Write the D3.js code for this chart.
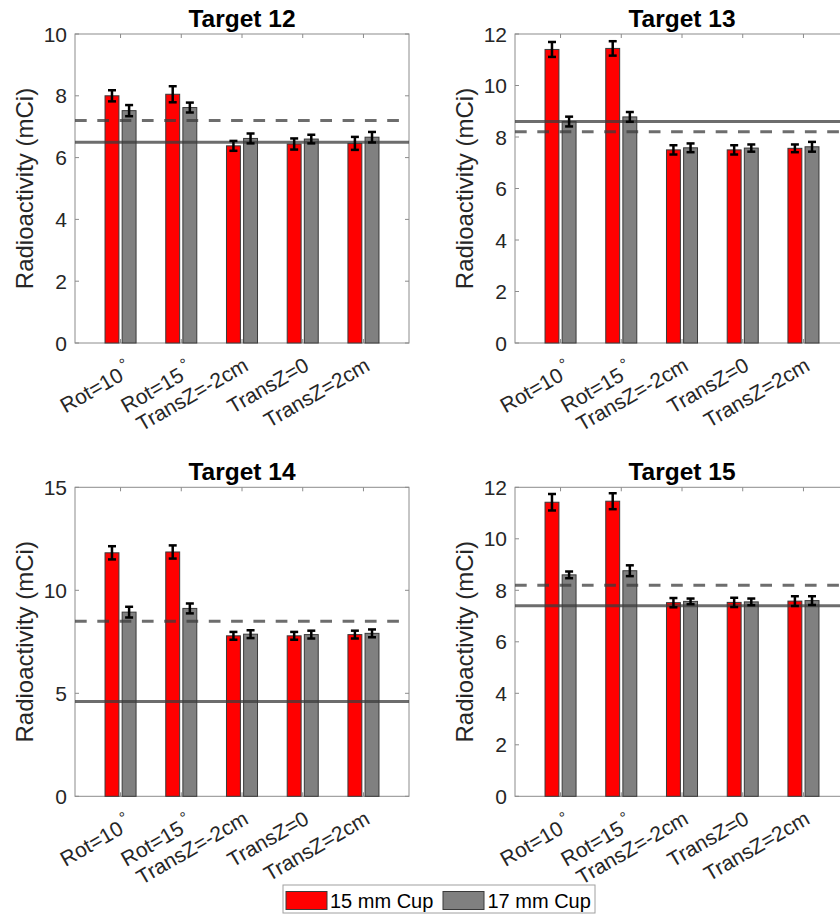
<!DOCTYPE html>
<html>
<head>
<meta charset="utf-8">
<script src="https://cdn.jsdelivr.net/npm/d3@7"></script>
<style>
  html, body { margin: 0; padding: 0; background: #fff; }
  svg { display: block; font-family: "Liberation Sans", Arial, Helvetica, sans-serif; }
</style>
</head>
<body>
<svg id="chart" width="840" height="918"></svg>
<script>
// Categories along the x axis (a trailing "°" is drawn as a superscript ring)
const categories = ["Rot=10°", "Rot=15°", "TransZ=-2cm", "TransZ=0", "TransZ=2cm"];
const targets = ["Target 12", "Target 13", "Target 14", "Target 15"];
const seriesNames = ["15 mm Cup", "17 mm Cup"];

// Y-axis extents and tick labels per target
const yMax = [10, 12, 15, 12];
const yTicks = [
  [0, 2, 4, 6, 8, 10],
  [0, 2, 4, 6, 8, 10, 12],
  [0, 5, 10, 15],
  [0, 2, 4, 6, 8, 10, 12]
];

// Measured activity (mCi) per target, one entry per category
const cup15 = [
  [8.00, 8.05, 6.38, 6.44, 6.46],
  [11.40, 11.44, 7.50, 7.50, 7.56],
  [11.82, 11.86, 7.79, 7.79, 7.85],
  [11.42, 11.46, 7.52, 7.53, 7.58]
];
const cup15Err = [
  [0.18, 0.26, 0.16, 0.18, 0.21],
  [0.29, 0.28, 0.18, 0.18, 0.15],
  [0.32, 0.32, 0.19, 0.19, 0.19],
  [0.32, 0.31, 0.18, 0.18, 0.19]
];
const cup17 = [
  [7.52, 7.62, 6.62, 6.60, 6.66],
  [8.60, 8.78, 7.58, 7.57, 7.62],
  [8.94, 9.12, 7.87, 7.85, 7.91],
  [8.60, 8.76, 7.57, 7.55, 7.60]
];
const cup17Err = [
  [0.18, 0.16, 0.16, 0.14, 0.17],
  [0.19, 0.19, 0.17, 0.14, 0.19],
  [0.26, 0.24, 0.19, 0.19, 0.19],
  [0.13, 0.21, 0.11, 0.13, 0.17]
];

// Reference levels drawn as horizontal lines
const refSolid = [6.5, 8.6, 4.6, 7.4];
const refDashed = [7.2, 8.2, 8.5, 8.2];

// ---- layout ----
const svg = d3.select("#chart");
const panelW = 334, panelH = 309;
const panelOrigins = [[75, 34], [515, 34], [75, 487.3], [515, 487.3]];
const colors = ["#ff0000", "#808080"];
const axisGray = "#8c8c8c";
const textColor = "#262626";
const barOffset = 0.141, barWidth = 0.229;
const tickFont = 21;

targets.forEach((title, t) => {
  const [left, top] = panelOrigins[t];
  const g = svg.append("g").attr("transform", `translate(${left},${top})`);

  const x = d3.scaleLinear().domain([0.25, categories.length + 0.75]).range([0, panelW]);
  const y = d3.scaleLinear().domain([0, yMax[t]]).range([panelH, 0]);
  const xs = categories.map((c, i) => i + 1);

  // axes box
  g.append("rect").attr("x", 0).attr("y", 0).attr("width", panelW).attr("height", panelH)
    .attr("fill", "none").attr("stroke", axisGray).attr("stroke-width", 1);

  // inward ticks on all four sides
  const tickLen = 4;
  yTicks[t].forEach(v => {
    g.append("line").attr("x1", 0).attr("x2", tickLen).attr("y1", y(v)).attr("y2", y(v))
      .attr("stroke", axisGray);
    g.append("line").attr("x1", panelW).attr("x2", panelW - tickLen).attr("y1", y(v)).attr("y2", y(v))
      .attr("stroke", axisGray);
  });
  xs.forEach(v => {
    g.append("line").attr("x1", x(v)).attr("x2", x(v)).attr("y1", 0).attr("y2", tickLen)
      .attr("stroke", axisGray);
    g.append("line").attr("x1", x(v)).attr("x2", x(v)).attr("y1", panelH).attr("y2", panelH - tickLen)
      .attr("stroke", axisGray);
  });

  // y tick labels
  g.append("g").selectAll("text").data(yTicks[t]).join("text")
    .attr("x", -8).attr("y", d => y(d)).attr("dy", "0.36em")
    .attr("text-anchor", "end").attr("font-size", tickFont).attr("fill", textColor)
    .text(d => d);

  // x tick labels, rotated
  categories.forEach((c, i) => {
    const hasDeg = c.endsWith("°");
    const main = hasDeg ? c.slice(0, -1) : c;
    const dx = hasDeg ? 12.8 : 7.7, dy = hasDeg ? 31.5 : 26.5;
    const txt = g.append("text")
      .attr("transform", `translate(${x(xs[i]) + dx},${panelH + dy}) rotate(-30)`)
      .attr("text-anchor", "end").attr("font-size", tickFont).attr("fill", textColor);
    txt.append("tspan").text(main);
    if (hasDeg) {
      txt.append("tspan").attr("font-size", 16).attr("font-weight", 300)
        .attr("dx", 3.5).attr("dy", -8.5).text("°");
    }
  });

  // y label
  g.append("text")
    .attr("transform", `translate(-42,${panelH / 2}) rotate(-90)`)
    .attr("text-anchor", "middle").attr("font-size", 24).attr("fill", textColor)
    .text("Radioactivity (mCi)");

  // title
  g.append("text").attr("x", panelW / 2).attr("y", -7)
    .attr("text-anchor", "middle").attr("font-size", 24.5).attr("font-weight", "bold")
    .attr("fill", "#000").text(title);

  // bars
  const series = [cup15[t], cup17[t]];
  const errs = [cup15Err[t], cup17Err[t]];
  const bw = x(barWidth) - x(0);
  series.forEach((vals, s) => {
    const off = s === 0 ? -barOffset : barOffset;
    g.append("g").selectAll("rect").data(vals).join("rect")
      .attr("x", (d, i) => x(xs[i] + off) - bw / 2)
      .attr("y", d => y(d))
      .attr("width", bw)
      .attr("height", d => y(0) - y(d))
      .attr("fill", colors[s])
      .attr("stroke", "#3a3a3a").attr("stroke-width", 1);
  });

  // reference lines
  g.append("line").attr("x1", 0).attr("x2", panelW)
    .attr("y1", y(refSolid[t])).attr("y2", y(refSolid[t]))
    .attr("stroke", "#3c3c3c").attr("stroke-opacity", 0.75).attr("stroke-width", 3);
  g.append("line").attr("x1", 0).attr("x2", panelW)
    .attr("y1", y(refDashed[t])).attr("y2", y(refDashed[t]))
    .attr("stroke", "#3c3c3c").attr("stroke-opacity", 0.75).attr("stroke-width", 3)
    .attr("stroke-dasharray", "11.7,10.6");

  // error bars
  series.forEach((vals, s) => {
    const off = s === 0 ? -barOffset : barOffset;
    const eg = g.append("g").attr("stroke", "#000").attr("stroke-width", 2.5);
    vals.forEach((v, i) => {
      const cx = x(xs[i] + off);
      const lo = y(v - errs[s][i]), hi = y(v + errs[s][i]);
      eg.append("line").attr("x1", cx).attr("x2", cx).attr("y1", lo).attr("y2", hi);
      eg.append("line").attr("x1", cx - 4).attr("x2", cx + 4).attr("y1", lo).attr("y2", lo);
      eg.append("line").attr("x1", cx - 4).attr("x2", cx + 4).attr("y1", hi).attr("y2", hi);
    });
  });
});

// legend
const lg = svg.append("g").attr("transform", "translate(283,885)");
lg.append("rect").attr("x", 0).attr("y", 0).attr("width", 312).attr("height", 28)
  .attr("fill", "#fff").attr("stroke", "#a0a0a0").attr("stroke-width", 1);
const legendX = [[3, 47], [160, 204.5]];
seriesNames.forEach((name, s) => {
  lg.append("rect").attr("x", legendX[s][0]).attr("y", 6.5).attr("width", 41).attr("height", 18)
    .attr("fill", colors[s]).attr("stroke", "#3a3a3a").attr("stroke-width", 1);
  lg.append("text").attr("x", legendX[s][1]).attr("y", 22.7)
    .attr("font-size", 20).attr("fill", "#000").text(name);
});
</script>
</body>
</html>
